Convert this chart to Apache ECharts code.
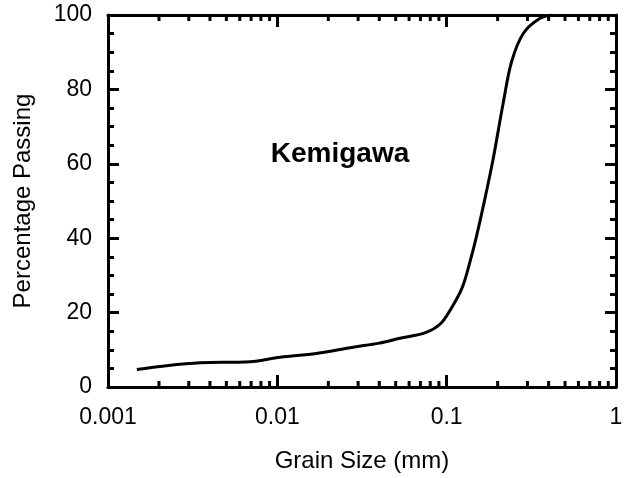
<!DOCTYPE html>
<html>
<head>
<meta charset="utf-8">
<script src="https://cdn.jsdelivr.net/npm/echarts@6/dist/echarts.min.js"></script>
<style>html,body{margin:0;padding:0;background:#fff;}#c{width:631px;height:478px;}</style>
</head>
<body>
<div id="c"></div>
<script>
const grainSize = [0.00148, 0.0021, 0.0035, 0.0069, 0.0104, 0.017, 0.028, 0.040, 0.053, 0.075, 0.092, 0.105, 0.123, 0.137, 0.150, 0.168, 0.1885, 0.216, 0.242, 0.284, 0.356, 0.42];
const percentPassing = [4.7, 5.6, 6.5, 6.8, 8.0, 9.0, 10.7, 11.8, 13.1, 14.6, 17.0, 20.7, 26.5, 33.5, 40.5, 50.5, 61.5, 76.5, 87.5, 95.1, 99.1, 100];
const xTickLabels = ['0.001', '0.01', '0.1', '1'];
const yTickLabels = ['0', '20', '40', '60', '80', '100'];
const sampleName = 'Kemigawa';
const xAxisTitle = 'Grain Size (mm)';
const yAxisTitle = 'Percentage Passing';

// log minor tick values (2..9 in each decade)
const logMinorTicks = [];
[0.001, 0.01, 0.1].forEach(d => { for (let k = 2; k <= 9; k++) logMinorTicks.push(+(d * k).toPrecision(3)); });

const FONT = 'Liberation Sans';
const chart = echarts.init(document.getElementById('c'), null, {renderer: 'canvas'});
const axisLine = {show: true, onZero: false, lineStyle: {color: '#000', width: 3}};
const option = {
  animation: false,
  backgroundColor: '#fff',
  grid: {left: 108, right: 15, top: 15, bottom: 87, containLabel: false},
  xAxis: [{
    type: 'log', logBase: 10, min: 0.001, max: 1, position: 'bottom',
    axisLine: axisLine,
    axisTick: {show: true, inside: true, length: 12, lineStyle: {color: '#000', width: 3}},
    minorTick: {show: false},
    splitLine: {show: false},
    axisLabel: {color: '#000', fontFamily: FONT, fontSize: 23, margin: 19,
      formatter: v => { const s = xTickLabels.find(t => Math.abs(parseFloat(t) - v) / v < 1e-6); return s || ''; }},
    name: xAxisTitle, nameLocation: 'middle', nameGap: 62,
    nameTextStyle: {color: '#000', fontFamily: FONT, fontSize: 24}
  }, {
    type: 'log', logBase: 10, min: 0.001, max: 1, position: 'top',
    axisLine: axisLine,
    axisTick: {show: true, inside: true, length: 12, lineStyle: {color: '#000', width: 3}},
    axisLabel: {show: false}, splitLine: {show: false}
  }],
  yAxis: [{
    type: 'value', min: 0, max: 100, interval: 20, position: 'left',
    axisLine: axisLine,
    axisTick: {show: true, inside: true, length: 11, lineStyle: {color: '#000', width: 3}},
    minorTick: {show: true, splitNumber: 4, length: 6, lineStyle: {color: '#000', width: 3}},
    splitLine: {show: false},
    axisLabel: {color: '#000', fontFamily: FONT, fontSize: 23, margin: 16,
      formatter: v => yTickLabels[Math.round(v / 20)]},
    name: yAxisTitle, nameLocation: 'middle', nameGap: 73, nameRotate: 90,
    nameTextStyle: {color: '#000', fontFamily: FONT, fontSize: 24}
  }, {
    type: 'value', min: 0, max: 100, interval: 20, position: 'right',
    axisLine: axisLine,
    axisTick: {show: true, inside: true, length: 11, lineStyle: {color: '#000', width: 3}},
    minorTick: {show: true, splitNumber: 4, length: 6, lineStyle: {color: '#000', width: 3}},
    splitLine: {show: false},
    axisLabel: {show: false}
  }],
  series: [{
    type: 'line',
    xAxisIndex: 0, yAxisIndex: 0,
    data: grainSize.map((g, i) => [g, percentPassing[i]]),
    smooth: 0.35,
    showSymbol: false, symbol: 'none',
    lineStyle: {color: '#000', width: 3},
    z: 3
  }, {
    type: 'custom',
    xAxisIndex: 0, yAxisIndex: 0,
    data: logMinorTicks.map(v => [v]),
    renderItem: function (params, api) {
      const v = api.value(0);
      const b = api.coord([v, 0]);
      const t = api.coord([v, 100]);
      return {type: 'group', children: [
        {type: 'line', shape: {x1: b[0], y1: b[1], x2: b[0], y2: b[1] - 6}, style: {stroke: '#000', lineWidth: 3}},
        {type: 'line', shape: {x1: t[0], y1: t[1], x2: t[0], y2: t[1] + 6}, style: {stroke: '#000', lineWidth: 3}}
      ]};
    },
    silent: true, clip: false, z: 4
  }],
  graphic: [{
    type: 'text', x: 340, y: 154,
    style: {text: sampleName, fill: '#000', font: 'bold 28px "Liberation Sans"', align: 'center', verticalAlign: 'middle'}
  }]
};
chart.setOption(option);
</script>
</body>
</html>
